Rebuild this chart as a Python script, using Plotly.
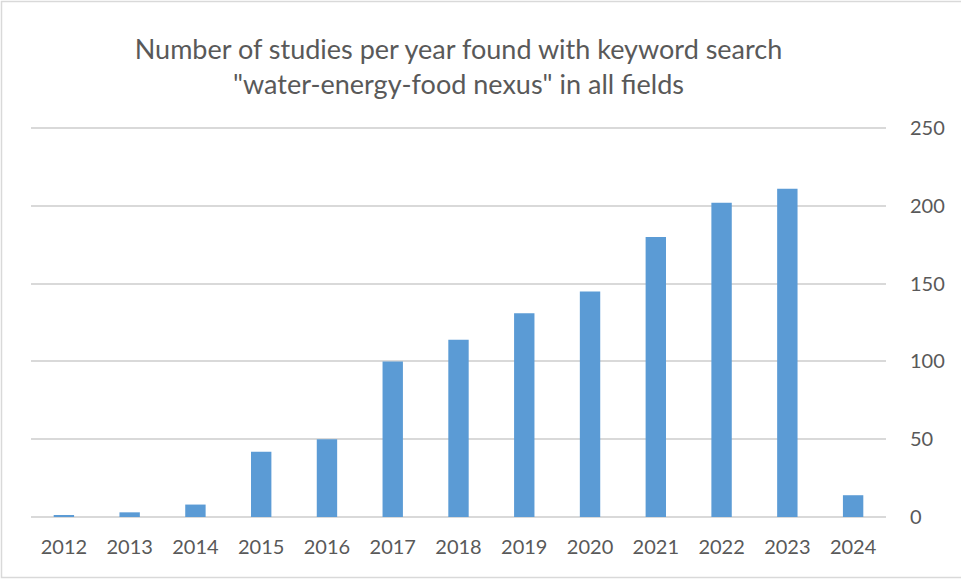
import plotly.graph_objects as go

years = ["2012", "2013", "2014", "2015", "2016", "2017", "2018",
         "2019", "2020", "2021", "2022", "2023", "2024"]
studies = [1, 3, 8, 42, 50, 100, 114, 131, 145, 180, 202, 211, 14]
y_ticks = [0, 50, 100, 150, 200, 250]

title_text = ('Number of studies per year found with keyword search<br>'
              '"water-energy-food nexus" in all fields')

W, H = 961, 579
ml, mr, mt, mb = 31, 75, 125, 62
pw, ph = W - ml - mr, H - mt - mb

fig = go.Figure(go.Bar(
    x=years, y=studies,
    marker=dict(color="#5B9BD5", line=dict(width=0)),
))

fig.update_layout(
    width=W, height=H,
    margin=dict(l=ml, r=mr, t=mt, b=mb),
    paper_bgcolor="white", plot_bgcolor="white",
    bargap=0.69,
    showlegend=False,
    font=dict(family="Lato", color="#595959"),
    title=dict(text=title_text, x=0.5, xref="paper", xanchor="center",
               y=1 - 59 / H, yanchor="middle",
               font=dict(family="Lato", size=27, color="#595959")),
)
fig.update_xaxes(type="category", showgrid=False, showline=False,
                 ticks="", ticklabelstandoff=16,
                 tickfont=dict(size=20, color="#595959"))
fig.update_yaxes(side="right", range=[0, 252], tickvals=y_ticks,
                 showgrid=True, gridcolor="#D9D9D9", gridwidth=1.5,
                 zeroline=True, zerolinecolor="#D9D9D9", zerolinewidth=1.5,
                 showline=False, ticks="", ticklabelstandoff=23,
                 tickfont=dict(size=20, color="#595959"))

# outer chart border (right edge falls outside the picture, as in the reference)
fig.add_shape(type="rect", xref="paper", yref="paper",
              x0=(1.5 - ml) / pw, x1=(W + 3 - ml) / pw,
              y0=-(mb - 1.5) / ph, y1=1 + (mt - 1.5) / ph,
              line=dict(color="#D9D9D9", width=1.5), fillcolor="rgba(0,0,0,0)",
              layer="below")

fig.write_html("out.html",
               config={"displayModeBar": False},
               post_script="document.body.style.margin='0';"
                           "document.body.style.overflow='hidden';")
